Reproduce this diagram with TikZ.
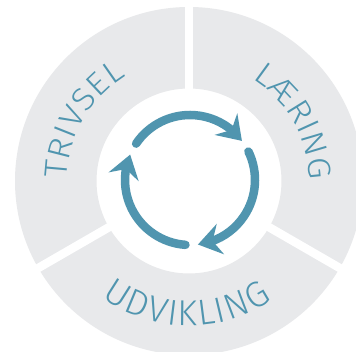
\documentclass[tikz,border=0pt]{standalone}
\usepackage{fontspec}
\setmainfont{Fira Sans}[UprightFont=* Light]
\usetikzlibrary{arrows.meta,bending,decorations.text}
\definecolor{ringgray}{RGB}{232,233,235}
\definecolor{tealc}{RGB}{80,149,175}
\begin{document}
\begin{tikzpicture}[x=1pt,y=1pt,
  cyc/.style={draw=tealc, line width=8.5pt, line cap=round,
    -{Stealth[length=23pt,width=31pt,inset=8pt]}},
  gapline/.style={white, line width=8.5pt},
  arclabel/.style={decorate, decoration={text along path, text={#1},
    text color=tealc, text align=fit to path}}]
\useasboundingbox (0,0) rectangle (356,352);
\clip (0,0) rectangle (356,352);
\fill[white] (0,0) rectangle (356,352);
\coordinate (C) at (189,171);
\coordinate (A) at (190,172);
% ring
\fill[ringgray, even odd rule] (C) circle[radius=174pt] (C) circle[radius=92.5pt];
\foreach \a in {90,-30,210} \draw[gapline] (C) -- ++(\a:190pt);
% cycle arrows
\draw[cyc] (A) ++(146:65pt) arc[start angle=146, end angle=37, radius=65pt];
\draw[cyc] (A) ++(26:65pt) arc[start angle=26, end angle=-83, radius=65pt];
\draw[cyc] (A) ++(-94:65pt) arc[start angle=-94, end angle=-203, radius=65pt];
% labels
\path[arclabel={|\fontsize{32}{32}\selectfont\addfontfeatures{FakeStretch=1.1}|TRIVSEL}]
  (C) ++(179:122pt) arc[start angle=179, end angle=121, radius=122pt];
\path[arclabel={|\fontsize{32}{32}\selectfont\addfontfeatures{FakeStretch=1.1}|LÆRING}]
  (C) ++(58:120pt) arc[start angle=58, end angle=2, radius=120pt];
\path[arclabel={|\fontsize{36}{36}\selectfont|UDVIKLING}]
  (C) ++(233:145pt) arc[start angle=233, end angle=305, radius=145pt];
\end{tikzpicture}
\end{document}
